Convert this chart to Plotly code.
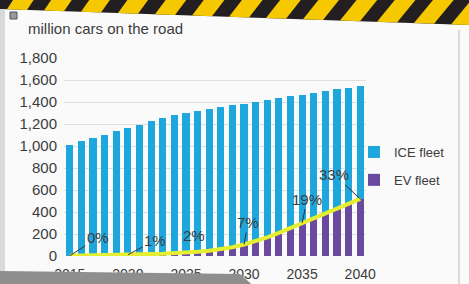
import plotly.graph_objects as go

years = list(range(2015, 2041))
ev_fleet = [2, 3, 4, 6, 9, 12, 15, 18, 21, 25, 30, 38, 48, 62, 80,
            105, 135, 170, 210, 255, 300, 345, 390, 435, 480, 520]
ice_fleet = [1008, 1047, 1068, 1094, 1123, 1153, 1180, 1210, 1236, 1257, 1270,
             1282, 1290, 1292, 1290, 1280, 1266, 1248, 1226, 1200, 1168,
             1139, 1113, 1081, 1048, 1027]
share_years = [2015, 2020, 2025, 2030, 2035, 2040]
share_labels = ["0%", "1%", "2%", "7%", "19%", "33%"]
y_ticks = [0, 200, 400, 600, 800, 1000, 1200, 1400, 1600, 1800]
y_tick_text = ["0", "200", "400", "600", "800", "1,000", "1,200", "1,400", "1,600", "1,800"]
x_ticks = [2015, 2020, 2025, 2030, 2035, 2040]

W, H = 469, 284
L, R, T, B = 64, 103, 58, 28
PW, PH = W - L - R, H - T - B


def X(px):
    return (px - L) / PW


def Y(py):
    return (H - B - py) / PH


ICE_COL = "#1ea7dc"
EV_COL = "#6a4a9e"
LINE_COL = "#e6ee30"
TXT = "#3c3c3c"
FONT = "Liberation Sans, Arial, sans-serif"

fig = go.Figure()
fig.add_trace(go.Bar(x=years, y=ev_fleet, name="EV fleet", marker_color=EV_COL,
                     marker_line_width=0, legendgroup="ev", legendrank=2))
fig.add_trace(go.Bar(x=years, y=ice_fleet, name="ICE fleet", marker_color=ICE_COL,
                     marker_line_width=0, legendgroup="ice", legendrank=1))
fig.add_trace(go.Scatter(x=years, y=ev_fleet, mode="lines", showlegend=False,
                         line=dict(color=LINE_COL, width=4)))

ev_by_year = dict(zip(years, ev_fleet))
offsets = {"0%": (28, -18, True), "1%": (27, -14, True), "2%": (8, -17, False),
           "7%": (4, -22, True), "19%": (5, -24, True), "33%": (-26, -24, True)}
for yr, lab in zip(share_years, share_labels):
    ax, ay, arrow = offsets[lab]
    if arrow:
        fig.add_annotation(x=yr, y=ev_by_year[yr], text=lab, showarrow=True,
                           arrowhead=0, arrowwidth=1, arrowcolor="#333333",
                           ax=ax, ay=ay, font=dict(size=15, color=TXT, family=FONT))
    else:
        fig.add_annotation(x=yr, y=ev_by_year[yr], text=lab, showarrow=False,
                           xshift=ax, yshift=-ay, font=dict(size=15, color=TXT, family=FONT))

shapes = []
# hazard stripe band at top
def band_bottom(px):
    return 9 + (25 - 9) * px / W

shapes.append(dict(type="path", xref="paper", yref="paper", layer="above",
                   path=f"M {X(-5)},{Y(-5)} L {X(W+5)},{Y(-5)} L {X(W+5)},{Y(band_bottom(W+5))} L {X(-5)},{Y(band_bottom(-5))} Z",
                   fillcolor="#231f20", line_width=0))
x0 = -30
while x0 < W + 10:
    b1 = band_bottom(x0)
    b2 = band_bottom(x0 + 20)
    path = (f"M {X(x0)},{Y(b1)} L {X(x0+20)},{Y(b2)} "
            f"L {X(x0+20+b2)},{Y(-5)} L {X(x0+b1)},{Y(-5)} Z")
    shapes.append(dict(type="path", xref="paper", yref="paper", layer="above",
                       path=path, fillcolor="#f5c800", line_width=0))
    x0 += 37
# left edge strip
shapes.append(dict(type="rect", xref="paper", yref="paper", layer="above",
                   x0=X(-5), x1=X(5), y0=Y(290), y1=Y(band_bottom(0)),
                   fillcolor="#d9d9d9", line_width=0))
# right panel border
shapes.append(dict(type="line", xref="paper", yref="paper", layer="above",
                   x0=X(459), x1=X(459), y0=Y(30), y1=Y(284),
                   line=dict(color="#d0d0d0", width=1.5)))
# small icon
shapes.append(dict(type="rect", xref="paper", yref="paper", layer="above",
                   x0=X(10), x1=X(17), y0=Y(19), y1=Y(12),
                   fillcolor="#9a9a9a", line=dict(color="#555555", width=1)))
# bottom grey page edge
shapes.append(dict(type="path", xref="paper", yref="paper", layer="above",
                   path=f"M {X(-5)},{Y(271)} L {X(240)},{Y(274)} L {X(258)},{Y(290)} L {X(-5)},{Y(290)} Z",
                   fillcolor="#8e8e8e", line_width=0))

fig.update_layout(
    width=W, height=H,
    margin=dict(l=L, r=R, t=T, b=B, autoexpand=False),
    barmode="stack", bargap=0.38,
    paper_bgcolor="#fafafa", plot_bgcolor="#fafafa",
    font=dict(family=FONT, size=13, color=TXT),
    title=dict(text="million cars on the road", xref="container", yref="container",
               x=28 / W, y=1 - 29 / H, xanchor="left", yanchor="middle",
               font=dict(size=15, color=TXT, family=FONT)),
    showlegend=True,
    legend=dict(x=X(354), y=Y(137), xanchor="left", yanchor="top",
                traceorder="grouped", tracegroupgap=8,
                font=dict(size=13, color=TXT, family=FONT),
                bgcolor="rgba(0,0,0,0)", itemwidth=30),
    shapes=shapes,
    xaxis=dict(range=[2014.5, 2040.5], tickvals=x_ticks, showgrid=False,
               zeroline=False, ticks="outside", ticklen=5, tickcolor="rgba(0,0,0,0)",
               tickfont=dict(size=14, color=TXT, family=FONT), showline=False,
               automargin=False),
    yaxis=dict(range=[0, 1800], tickvals=y_ticks, ticktext=y_tick_text,
               showgrid=True, gridcolor="#dedede", gridwidth=1, zeroline=False,
               tickfont=dict(size=15, color=TXT, family=FONT), ticklabelstandoff=6,
               automargin=False),
)

fig.write_html("out.html", config={"displayModeBar": False},
               post_script="document.body.style.margin='0';document.body.style.overflow='hidden';")
